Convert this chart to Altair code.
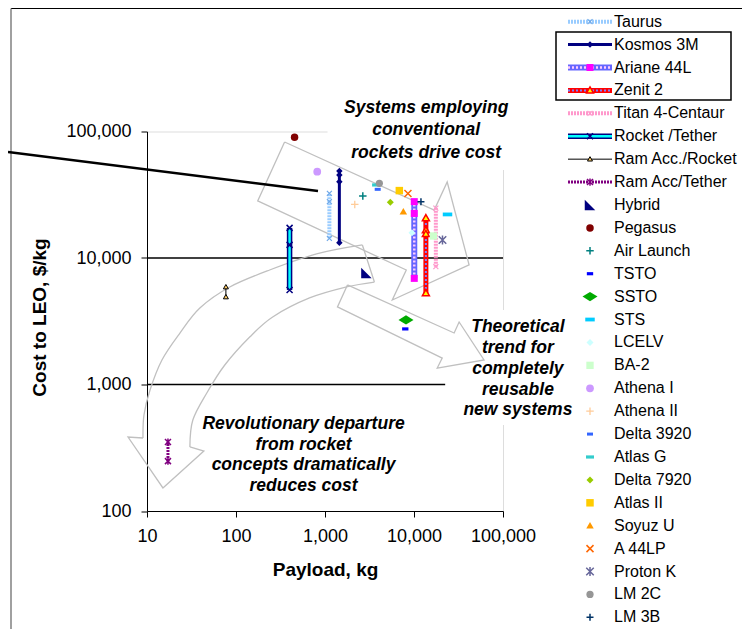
import altair as alt
import pandas as pd

# ---------------- chart values ----------------
SERIES_NAMES = ["Taurus", "Kosmos 3M", "Ariane 44L", "Zenit 2", "Titan 4-Centaur",
                "Rocket /Tether", "Ram Acc./Rocket", "Ram Acc/Tether"]
SERIES_PAYLOAD = [1120, 1450, 10070, 13600, 17600, 400, 77, 17.2]
SERIES_COSTS = [
    [32400, 27900, 14300],
    [48700, 45300, 40100, 13200],
    [27900, 22500, 6900],
    [20700, 16600, 15500, 5280],
    [24800, 8540],
    [17300, 12700, 5590],
    [5900, 4920],
    [351, 248],
]

POINT_NAMES = ["Hybrid", "Pegasus", "Air Launch", "TSTO", "SSTO", "STS", "LCELV", "BA-2",
               "Athena I", "Athena II", "Delta 3920", "Atlas G", "Delta 7920", "Atlas II",
               "Soyuz U", "A 44LP", "Proton K", "LM 2C", "LM 3B"]
POINT_PAYLOAD = [2920, 455, 2660, 7980, 8130, 23800, 9480, 16560, 818, 2160,
                 3910, 3750, 5420, 6840, 7590, 8550, 20900, 4080, 11970]
POINT_COST = [7600, 90000, 30900, 2750, 3240, 22100, 15850, 14930, 48100, 26500,
              34900, 37800, 27600, 34100, 23200, 32400, 13870, 38900, 27900]

X_TICKS = [10, 100, 1000, 10000, 100000]
Y_TICKS = [100, 1000, 10000, 100000]
GRID_Y = [1000, 10000]

SYS_TEXT = ["Systems employing", "conventional", "rockets drive cost"]
THEO_TEXT = ["Theoretical", "trend for", "completely", "reusable", "new systems"]
REV_TEXT = ["Revolutionary departure", "from rocket", "concepts dramatically", "reduces cost"]
# annotation anchors at the first text line (payload kg, cost $/kg)
SYS_AT = [13700, 153500]
THEO_AT = [147000, 2825]
REV_AT = [574, 488]

# white boxes behind the annotation texts (payload from/to, cost from/to)
SYS_BOX = [1067, 150000, 49600, 200000]
THEO_BOX = [22400, 150000, 479, 3880]

# block-arrow outlines, in log10(payload) / log10(cost) units
ARROW1_LX = [2.546, 4.227, 4.373, 4.619, 3.756, 3.913, 2.244, 2.546]
ARROW1_LY = [4.917, 4.379, 4.601, 3.945, 3.668, 3.905, 4.451, 4.917]
ARROW2_LX = [3.252, 4.451, 4.507, 4.787, 4.261, 4.317, 3.140, 3.252]
ARROW2_LY = [3.787, 3.407, 3.494, 3.194, 3.130, 3.209, 3.613, 3.787]
CURVE_OUT_LX = [3.420, 2.905, 2.378, 1.930, 1.594, 1.370, 1.168, 1.034, 0.966, 0.955]
CURVE_OUT_LY = [4.103, 4.032, 3.905, 3.771, 3.605, 3.407, 3.194, 2.957, 2.759, 2.577]
CURVE_IN_LX = [1.482, 1.515, 1.672, 1.874, 2.154, 2.412, 2.826, 3.241, 3.555]
CURVE_IN_LY = [2.506, 2.719, 2.933, 3.154, 3.375, 3.534, 3.684, 3.771, 3.810]
CURVE_HEAD_LX = [0.955, 0.787, 1.179, 1.639, 1.482]
CURVE_HEAD_LY = [2.577, 2.585, 2.182, 2.474, 2.506]
CURVE_TAIL_LX = [3.555, 3.420]
CURVE_TAIL_LY = [3.810, 4.103]

LEGEND_ORDER = SERIES_NAMES + POINT_NAMES

# ---------------- styles ----------------
FONT = "Liberation Sans, Arial, sans-serif"
PLUS = "M-1,0H1M0,-1V1"
XSHAPE = "M-1,-1L1,1M-1,1L1,-1"
STAR = "M-1,-1L1,1M-1,1L1,-1M0,-1.2V1.2"
DASH = "M-1,-0.5H1V0.5H-1Z"
DASH2 = "M-1,-0.4H1V0.4H-1Z"
DIAMOND = "M-1,0L0,-1L1,0L0,1Z"
FLAT_DIAMOND = "M-1,0L0,-0.62L1,0L0,0.62Z"
RTRI = "M-1,-1L-1,1L1,1Z"
TRI = "M0,-1L1,0.75L-1,0.75Z"

SERIES_STYLE = {
    "Taurus": dict(lines=[dict(color="#99CCFF", w=4, dash=[2, 1])],
                   marker=dict(shape=XSHAPE, size=25, stroke="#6FA8E8", sw=1.2)),
    "Kosmos 3M": dict(lines=[dict(color="#000080", w=3)],
                      marker=dict(shape=DIAMOND, size=42, fill="#000080")),
    "Ariane 44L": dict(lines=[dict(color="#6666FF", w=6), dict(color="#FFCCFF", w=2.5, dash=[2, 2])],
                       marker=dict(shape="square", size=49, fill="#FF00FF")),
    "Zenit 2": dict(lines=[dict(color="#FF0000", w=5), dict(color="#8080FF", w=2, dash=[2, 2])],
                    marker=dict(shape=TRI, size=49, fill="#FFFF00", stroke="#FF0000", sw=1.5)),
    "Titan 4-Centaur": dict(lines=[dict(color="#FF99CC", w=4, dash=[2, 1])],
                            marker=dict(shape=XSHAPE, size=25, stroke="#FF99CC", sw=1.2)),
    "Rocket /Tether": dict(lines=[dict(color="#000080", w=5.5), dict(color="#00FFFF", w=2.5)],
                           marker=dict(shape=XSHAPE, size=36, stroke="#000080", sw=1.5)),
    "Ram Acc./Rocket": dict(lines=[dict(color="#000000", w=1)],
                            marker=dict(shape=TRI, size=25, fill="#FFCC66", stroke="#000000", sw=1)),
    "Ram Acc/Tether": dict(lines=[dict(color="#800080", w=3, dash=[2, 1])],
                           marker=dict(shape=STAR, size=36, stroke="#800080", sw=1.5)),
}

POINT_STYLE = {
    "Hybrid": dict(shape=RTRI, size=110, fill="#000080"),
    "Pegasus": dict(shape="circle", size=56, fill="#800000"),
    "Air Launch": dict(shape=PLUS, size=56, stroke="#008080", sw=1.5),
    "TSTO": dict(shape=DASH, size=40, fill="#0000FF"),
    "SSTO": dict(shape=FLAT_DIAMOND, size=225, fill="#00AA00"),
    "STS": dict(shape=DASH2, size=90, fill="#00CCFF"),
    "LCELV": dict(shape=DIAMOND, size=49, fill="#CCFFFF"),
    "BA-2": dict(shape="square", size=54, fill="#CCFFCC"),
    "Athena I": dict(shape="circle", size=60, fill="#CC99FF"),
    "Athena II": dict(shape=PLUS, size=56, stroke="#FFCC99", sw=1.3),
    "Delta 3920": dict(shape=DASH, size=36, fill="#3366FF"),
    "Atlas G": dict(shape=DASH2, size=64, fill="#33CCCC"),
    "Delta 7920": dict(shape=DIAMOND, size=49, fill="#99CC00"),
    "Atlas II": dict(shape="square", size=56, fill="#FFCC00"),
    "Soyuz U": dict(shape=TRI, size=56, fill="#FF9900"),
    "A 44LP": dict(shape=XSHAPE, size=49, stroke="#FF6600", sw=1.5),
    "Proton K": dict(shape=STAR, size=56, stroke="#666699", sw=1.5),
    "LM 2C": dict(shape="circle", size=52, fill="#969696"),
    "LM 3B": dict(shape=PLUS, size=49, stroke="#003366", sw=1.5),
}

ARROW_COLOR = "#C0C0C0"

# layout (pixels relative to the plot origin)
PLOT_W, PLOT_H = 356, 379.5
LEG_Y0, LEG_DY = -109.8, 22.91
LEG_LINE_X0, LEG_LINE_X1, LEG_MARK_X, LEG_TEXT_X = 421, 465, 443, 467

# ---------------- scales / axes ----------------
XS = alt.Scale(type="log", domain=[10, 100000], nice=False)
YS = alt.Scale(type="log", domain=[100, 100000], nice=False)
X_AXIS = alt.Axis(values=X_TICKS, format=",", title="Payload, kg", grid=False,
                  labelFont=FONT, labelFontSize=18, labelColor="black", labelPadding=10,
                  labelFlush=False, labelOverlap=False,
                  tickSize=6, tickColor="black", tickWidth=1,
                  domainColor="black", domainWidth=1,
                  titleFont=FONT, titleFontSize=19, titleFontWeight="bold", titleColor="black",
                  titleY=64, titleBaseline="alphabetic")
Y_AXIS = alt.Axis(values=Y_TICKS, format=",", title="Cost to LEO, $/kg", grid=False,
                  labelFont=FONT, labelFontSize=18, labelColor="black", labelPadding=10,
                  labelFlush=False, labelOverlap=False,
                  tickSize=6, tickColor="black", tickWidth=1,
                  domainColor="black", domainWidth=1,
                  titleFont=FONT, titleFontSize=19, titleFontWeight="bold", titleColor="black",
                  titleX=-101.5, titleY=185.5, titleBaseline="alphabetic", titleAngle=270,
                  titleAlign="center")


def X(field="payload"):
    return alt.X(f"{field}:Q", scale=XS, axis=X_AXIS)


def Y(field="cost"):
    return alt.Y(f"{field}:Q", scale=YS, axis=Y_AXIS)


def point_kw(st):
    kw = dict(shape=st["shape"], size=st["size"], opacity=1)
    if "fill" in st:
        kw.update(filled=True, fill=st["fill"], color=st["fill"])
        if "stroke" in st:
            kw.update(stroke=st["stroke"], strokeWidth=st.get("sw", 1))
        else:
            kw.update(strokeWidth=0)
    else:
        kw.update(filled=False, color=st["stroke"], stroke=st["stroke"],
                  strokeWidth=st.get("sw", 1.5))
    return kw


def line_kw(ln):
    kw = dict(color=ln["color"], strokeWidth=ln["w"], strokeCap="butt")
    if "dash" in ln:
        kw["strokeDash"] = ln["dash"]
    return kw


def outline_df(lx, ly):
    return pd.DataFrame({"payload": [10 ** v for v in lx],
                         "cost": [10 ** v for v in ly],
                         "i": list(range(len(lx)))})


DUMMY = pd.DataFrame({"k": [0]})
layers = []

# gridlines
layers.append(alt.Chart(pd.DataFrame({"cost": GRID_Y})).mark_rule(color="black", strokeWidth=1.3)
              .encode(y=Y()))

# white boxes behind annotation texts
for box in (SYS_BOX, THEO_BOX):
    bdf = pd.DataFrame({"payload": [box[0]], "payload2": [box[1]], "cost": [box[2]], "cost2": [box[3]]})
    layers.append(alt.Chart(bdf).mark_rect(fill="white", strokeWidth=0)
                  .encode(x=X(), x2=alt.X2("payload2:Q"), y=Y(), y2=alt.Y2("cost2:Q")))

# block arrows
for lx, ly, interp in [(ARROW1_LX, ARROW1_LY, "linear"), (ARROW2_LX, ARROW2_LY, "linear"),
                       (CURVE_OUT_LX, CURVE_OUT_LY, "cardinal"), (CURVE_IN_LX, CURVE_IN_LY, "cardinal"),
                       (CURVE_HEAD_LX, CURVE_HEAD_LY, "linear"), (CURVE_TAIL_LX, CURVE_TAIL_LY, "linear")]:
    layers.append(alt.Chart(outline_df(lx, ly))
                  .mark_line(color=ARROW_COLOR, strokeWidth=1.3, interpolate=interp)
                  .encode(x=X(), y=Y(), order=alt.Order("i:Q")))

# annotation texts (anchor = first line)
for lines, at, lh in [(SYS_TEXT, SYS_AT, 22.5), (THEO_TEXT, THEO_AT, 20.7), (REV_TEXT, REV_AT, 20.7)]:
    layers.append(alt.Chart(pd.DataFrame({"payload": [at[0]], "cost": [at[1]]}))
                  .mark_text(text=lines, lineHeight=lh, font=FONT, fontSize=17.5, fontWeight="bold",
                             fontStyle="italic", align="center", baseline="middle", color="black")
                  .encode(x=X(), y=Y()))

# line series
for name, px, costs in zip(SERIES_NAMES, SERIES_PAYLOAD, SERIES_COSTS):
    st = SERIES_STYLE[name]
    sdf = pd.DataFrame({"payload": [px] * len(costs), "cost": costs})
    for ln in st["lines"]:
        layers.append(alt.Chart(sdf).mark_line(**line_kw(ln))
                      .encode(x=X(), y=Y(), order=alt.Order("cost:Q")))
    layers.append(alt.Chart(sdf).mark_point(**point_kw(st["marker"])).encode(x=X(), y=Y()))

# single points
for name, px, cy in zip(POINT_NAMES, POINT_PAYLOAD, POINT_COST):
    pdf = pd.DataFrame({"payload": [px], "cost": [cy]})
    layers.append(alt.Chart(pdf).mark_point(**point_kw(POINT_STYLE[name])).encode(x=X(), y=Y()))

# legend
for i, name in enumerate(LEGEND_ORDER):
    ry = LEG_Y0 + LEG_DY * i
    if name in SERIES_STYLE:
        st = SERIES_STYLE[name]
        for ln in st["lines"]:
            layers.append(alt.Chart(DUMMY).mark_rule(**line_kw(ln))
                          .encode(x=alt.value(LEG_LINE_X0), x2=alt.value(LEG_LINE_X1), y=alt.value(ry)))
        mst = st["marker"]
    else:
        mst = POINT_STYLE[name]
    layers.append(alt.Chart(DUMMY).mark_point(**point_kw(mst))
                  .encode(x=alt.value(LEG_MARK_X), y=alt.value(ry)))
    layers.append(alt.Chart(DUMMY).mark_text(text=name, font=FONT, fontSize=16, align="left",
                                             baseline="middle", color="black")
                  .encode(x=alt.value(LEG_TEXT_X), y=alt.value(ry)))

# box around three legend entries
layers.append(alt.Chart(DUMMY).mark_rect(fill="transparent", stroke="black", strokeWidth=1.5)
              .encode(x=alt.value(409), x2=alt.value(584), y=alt.value(-99.5), y2=alt.value(-31.5)))

# outer frame and callout line
layers.append(alt.Chart(DUMMY).mark_rule(color="black", strokeWidth=1)
              .encode(x=alt.value(-136), x2=alt.value(595), y=alt.value(-123)))
layers.append(alt.Chart(DUMMY).mark_rule(color="#808080", strokeWidth=1.5)
              .encode(x=alt.value(-136), y=alt.value(-123), y2=alt.value(497.5)))
layers.append(alt.Chart(DUMMY).mark_rule(color="black", strokeWidth=2.5)
              .encode(x=alt.value(-139), y=alt.value(20.5), x2=alt.value(171), y2=alt.value(59.5)))

chart = (alt.layer(*layers)
         .properties(width=PLOT_W, height=PLOT_H,
                     autosize=alt.AutoSizeParams(type="none"),
                     padding={"left": 139, "top": 123.5, "right": 239, "bottom": 118},
                     background="white")
         .configure_view(stroke="#808080", strokeWidth=1.5)
         .configure(font=FONT))

chart.save("out.html", embed_options={"renderer": "svg", "actions": False})
